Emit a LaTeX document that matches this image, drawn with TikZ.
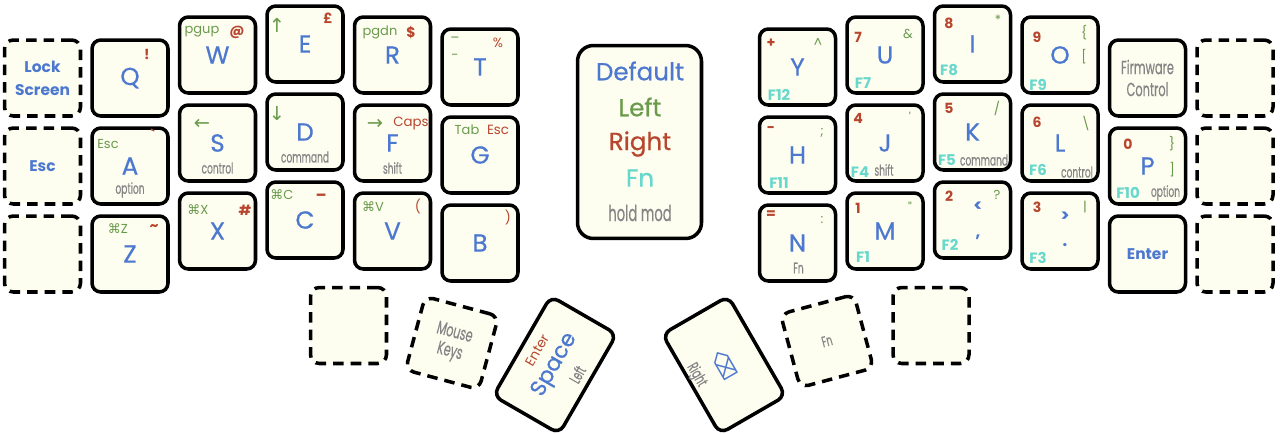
\documentclass[tikz,border=0pt]{standalone}
\usepackage{fontspec}
\setmainfont{Poppins}
\newfontfamily\keyfont[FakeBold=0.6]{Poppins}
\newfontfamily\condfont[FakeStretch=0.6, FakeBold=0.3]{Poppins}
\newfontfamily\symfont{DejaVu Sans}
\usetikzlibrary{calc}

\definecolor{keyfill}{HTML}{FDFDF0}
\definecolor{cdef}{HTML}{4C78CF}
\definecolor{cleft}{HTML}{6A9A4C}
\definecolor{cright}{HTML}{B8462E}
\definecolor{cfn}{HTML}{68D8CC}
\definecolor{cmod}{HTML}{858585}

\newcommand{\cmdsym}{{\symfont\char"2318}}

\begin{document}
\begin{tikzpicture}[
    x=0.02cm, y=-0.02cm,
    key/.style={draw=black, fill=keyfill, line width=2pt, rounded corners=5pt,
        minimum width=1.52cm, minimum height=1.52cm, inner sep=0pt,
        text=cdef, font=\keyfont\fontsize{14}{15}\selectfont},
    dkey/.style={key, dash pattern=on 6pt off 4pt},
    lt/.style={text=cleft, inner sep=0pt, font=\fontsize{7.4}{8}\selectfont},
    arr/.style={text=cleft, inner sep=0pt, font=\symfont\fontsize{11}{12}\selectfont},
    rt/.style={text=cright, inner sep=0pt, font=\bfseries\fontsize{8}{9}\selectfont},
    rtw/.style={text=cright, inner sep=0pt, font=\fontsize{7.6}{8}\selectfont},
    fnl/.style={text=cfn, inner sep=0pt, font=\bfseries\fontsize{8.5}{9}\selectfont},
    modl/.style={text=cmod, inner sep=0pt, font=\condfont\fontsize{8.6}{9}\selectfont},
    dfl/.style={text=cdef, inner sep=0pt, font=\bfseries\fontsize{9.5}{10}\selectfont},
    bold/.style={text=cdef, inner sep=0pt, align=center, font=\bfseries\fontsize{8.8}{13}\selectfont}
]

\useasboundingbox (0,0) rectangle (1280,433);

% -------------------------------------------------
% Main keys (centre in px, y downwards)
% -------------------------------------------------

\foreach \n/\l/\x/\y in {
    kq/Q/130/78, ka/A/130/166, kz/Z/130/254,
    kw/W/217.5/55, ks/S/217.5/143, kx/X/217.5/231,
    ke/E/305/44, kd/D/305/132, kc/C/305/220,
    kr/R/392.5/55, kf/F/392.5/143, kv/V/392.5/231,
    kt/T/480/67, kg/G/480/155, kb/B/480/243,
    ky/Y/797.5/67, kh/H/797.5/155, kn/N/797.5/243,
    ku/U/885/55, kj/J/885/143, km/M/885/231,
    ki/I/972.5/44, kk/K/972.5/132, kcomma//972.5/220,
    ko/O/1060/55, kl/L/1060/143, kperiod//1060/231,
    kp/P/1147.5/166}{
    \node[key] (\n) at (\x,\y) {\l};
}

% Unused (dashed) keys
\foreach \n/\x/\y in {
    klock/42.5/78, kesc/42.5/166, kblankl/42.5/254,
    kblankr1/1235/78, kblankr2/1235/166, kblankr3/1235/254,
    kthumbl/348.5/325.5, kthumbr/931/325.5}{
    \node[dkey] (\n) at (\x,\y) {};
}

\node[bold] (klock-t) at (klock) {Lock\\Screen};
\node[bold] (kesc-t) at (kesc) {Esc};

\node[key, text=cmod, align=center, font=\condfont\fontsize{10.8}{12.5}\selectfont]
  (kfw) at (1147.5,78) {Firmware\\Control};
\node[key, font=\bfseries\fontsize{8.8}{9}\selectfont]
  (kenter) at (1147.5,254) {Enter};

% -------------------------------------------------
% Left hand layers
% -------------------------------------------------

\node[rt] (kq-r) at ($(kq)+(17,-24)$) {!};

\node[lt] (ka-l) at ($(ka)+(-22,-22)$) {Esc};
\node[rt] (ka-r) at ($(ka)+(23,-31)$) {\textasciigrave};
\node[modl] (ka-m) at ($(ka)+(0,24)$) {option};

\node[lt] (kz-l) at ($(kz)+(-12,-25)$) {\cmdsym Z};
\node[rt] (kz-r) at ($(kz)+(24,-26)$) {\textasciitilde};

\node[lt] (kw-l) at ($(kw)+(-15.5,-23)$) {pgup};
\node[rt] (kw-r) at ($(kw)+(19.5,-23)$) {@};

\node[arr] (ks-l) at ($(ks)+(-15.5,-19)$) {←};
\node[modl] (ks-m) at ($(ks)+(0,25)$) {control};

\node[lt] (kx-l) at ($(kx)+(-19.5,-21)$) {\cmdsym X};
\node[rt] (kx-r) at ($(kx)+(27.5,-21)$) {\#};

\node[arr] (ke-l) at ($(ke)+(-28,-19)$) {↑};
\node[rt] (ke-r) at ($(ke)+(23,-26)$) {£};

\node[arr] (kd-l) at ($(kd)+(-28,-19)$) {↓};
\node[modl] (kd-m) at ($(kd)+(0,25)$) {command};

\node[lt] (kc-l) at ($(kc)+(-23,-25)$) {\cmdsym C};
\node[rt] (kc-r) at ($(kc)+(16,-25)$) {\_};

\node[lt] (kr-l) at ($(kr)+(-12.5,-23)$) {pgdn};
\node[rt] (kr-r) at ($(kr)+(18.5,-22)$) {\$};

\node[arr] (kf-l) at ($(kf)+(-17.5,-19)$) {→};
\node[rtw] (kf-r) at ($(kf)+(18.5,-19)$) {Caps};
\node[modl] (kf-m) at ($(kf)+(0,25)$) {shift};

\node[lt] (kv-l) at ($(kv)+(-19.5,-24)$) {\cmdsym V};
\node[rtw] (kv-r) at ($(kv)+(25.5,-24)$) {(};

\node[lt] (kt-l) at ($(kt)+(-25,-30)$) {\_};
\node[lt] (kt-l2) at ($(kt)+(-25,-10)$) {-};
\node[rtw] (kt-r) at ($(kt)+(18,-24)$) {\%};

\node[lt] (kg-l) at ($(kg)+(-13,-25)$) {Tab};
\node[rtw] (kg-r) at ($(kg)+(18,-25)$) {Esc};

\node[rtw] (kb-r) at ($(kb)+(28,-25)$) {)};

% -------------------------------------------------
% Right hand layers
% -------------------------------------------------

\node[rt] (ky-r) at ($(ky)+(-26.5,-24)$) {+};
\node[lt] (ky-l) at ($(ky)+(20.5,-24)$) {\textasciicircum};
\node[fnl] (ky-f) at ($(ky)+(-18.5,28)$) {F12};

\node[rt] (kh-r) at ($(kh)+(-26.5,-25)$) {-};
\node[lt] (kh-l) at ($(kh)+(24.5,-22)$) {;};
\node[fnl] (kh-f) at ($(kh)+(-18.5,28)$) {F11};

\node[rt] (kn-r) at ($(kn)+(-26.5,-28)$) {=};
\node[lt] (kn-l) at ($(kn)+(24.5,-23)$) {:};
\node[modl] (kn-m) at ($(kn)+(1,25)$) {Fn};

\node[rt] (ku-r) at ($(ku)+(-27,-18)$) {7};
\node[lt] (ku-l) at ($(ku)+(23,-21)$) {\&};
\node[fnl] (ku-f) at ($(ku)+(-22,28)$) {F7};

\node[rt] (kj-r) at ($(kj)+(-27,-25)$) {4};
\node[lt] (kj-l) at ($(kj)+(25,-26)$) {\textquotesingle};
\node[fnl] (kj-f) at ($(kj)+(-25,29)$) {F4};
\node[modl] (kj-m) at ($(kj)+(-1,27)$) {shift};

\node[rt] (km-r) at ($(km)+(-27,-23)$) {1};
\node[lt] (km-l) at ($(km)+(25,-24)$) {\textquotedbl};
\node[fnl] (km-f) at ($(km)+(-22,26)$) {F1};

\node[rt] (ki-r) at ($(ki)+(-23.5,-21)$) {8};
\node[lt] (ki-l) at ($(ki)+(25.5,-24)$) {*};
\node[fnl] (ki-f) at ($(ki)+(-23.5,26)$) {F8};

\node[rt] (kk-r) at ($(kk)+(-23.5,-24)$) {5};
\node[lt] (kk-l) at ($(kk)+(24.5,-24)$) {/};
\node[fnl] (kk-f) at ($(kk)+(-25.5,28)$) {F5};
\node[modl] (kk-m) at ($(kk)+(11.5,28)$) {command};

\node[rt] (kcomma-r) at ($(kcomma)+(-23.5,-24)$) {2};
\node[lt] (kcomma-l) at ($(kcomma)+(24.5,-25)$) {?};
\node[dfl] (kcomma-s) at ($(kcomma)+(5.5,-13)$) {<};
\node[dfl] (kcomma-u) at ($(kcomma)+(5.5,17)$) {,};
\node[fnl] (kcomma-f) at ($(kcomma)+(-22.5,25)$) {F2};

\node[rt] (ko-r) at ($(ko)+(-23,-18)$) {9};
\node[lt] (ko-s) at ($(ko)+(24,-22)$) {\{};
\node[lt] (ko-l) at ($(ko)+(24,2)$) {[};
\node[fnl] (ko-f) at ($(ko)+(-22,30)$) {F9};

\node[rt] (kl-r) at ($(kl)+(-23,-21)$) {6};
\node[lt] (kl-l) at ($(kl)+(26,-20)$) {\textbackslash};
\node[fnl] (kl-f) at ($(kl)+(-22,27)$) {F6};
\node[modl] (kl-m) at ($(kl)+(17,29)$) {control};

\node[rt] (kperiod-r) at ($(kperiod)+(-23,-24)$) {3};
\node[lt] (kperiod-l) at ($(kperiod)+(25,-24)$) {|};
\node[dfl] (kperiod-s) at ($(kperiod)+(5,-14)$) {>};
\node[dfl] (kperiod-u) at ($(kperiod)+(5,14)$) {.};
\node[fnl] (kperiod-f) at ($(kperiod)+(-22,27)$) {F3};

\node[rt] (kp-r) at ($(kp)+(-19.5,-22)$) {0};
\node[lt] (kp-s) at ($(kp)+(24.5,-22)$) {\}};
\node[lt] (kp-l) at ($(kp)+(24.5,4)$) {]};
\node[fnl] (kp-f) at ($(kp)+(-19.5,27)$) {F10};
\node[modl] (kp-m) at ($(kp)+(18,27)$) {option};

% -------------------------------------------------
% Thumb cluster
% -------------------------------------------------

\begin{scope}[shift={(452,343)}, rotate=-15, transform shape]
  \node[dkey, text=cmod, align=center, font=\condfont\fontsize{10.5}{11}\selectfont]
    (kmouse) at (0,0) {Mouse\\Keys};
\end{scope}

\begin{scope}[shift={(555,365)}, rotate=-30, transform shape]
  \node[key, minimum height=2.3cm] (kspace) at (0,0) {};
  \node[rotate=90, text=cdef, font=\keyfont\fontsize{12.5}{13}\selectfont]
    (kspace-t) at (0,0) {Space};
  \node[rotate=90, text=cright, inner sep=0pt, font=\fontsize{7.7}{8}\selectfont]
    (kspace-r) at (-23,-4) {Enter};
  \node[rotate=90, text=cmod, inner sep=0pt, font=\condfont\fontsize{9}{9}\selectfont]
    (kspace-m) at (24,-3) {Left};
\end{scope}

\begin{scope}[shift={(724,365)}, rotate=30, transform shape]
  \node[key, minimum height=2.3cm] (kbksp) at (0,0) {};
  \node[rotate=-90, text=cdef, font=\symfont\fontsize{12}{12}\selectfont]
    (kbksp-t) at (1,1) {\char"232B};
  \node[rotate=-90, text=cmod, inner sep=0pt, font=\condfont\fontsize{9}{9}\selectfont]
    (kbksp-m) at (-29,-5) {Right};
\end{scope}

\begin{scope}[shift={(827,341)}, rotate=15, transform shape]
  \node[dkey, text=cmod, font=\condfont\fontsize{8.6}{9}\selectfont]
    (kfn) at (0,0) {Fn};
\end{scope}

% -------------------------------------------------
% Legend
% -------------------------------------------------

\node[draw=black, fill=keyfill, line width=2pt, rounded corners=9pt,
      minimum width=2.48cm, minimum height=3.86cm] (legend) at (639.5,142) {};

\foreach \n/\t/\c/\y in {def/Default/cdef/71, left/Left/cleft/107,
    right/Right/cright/144, fn/Fn/cfn/178}{
    \node[text=\c, inner sep=0pt, font=\keyfont\fontsize{14}{15}\selectfont]
      (legend-\n) at (640,\y) {\t};
}
\node[text=cmod, inner sep=0pt, font=\condfont\fontsize{12.5}{13}\selectfont]
  (legend-mod) at (640,213) {hold mod};

\end{tikzpicture}
\end{document}
